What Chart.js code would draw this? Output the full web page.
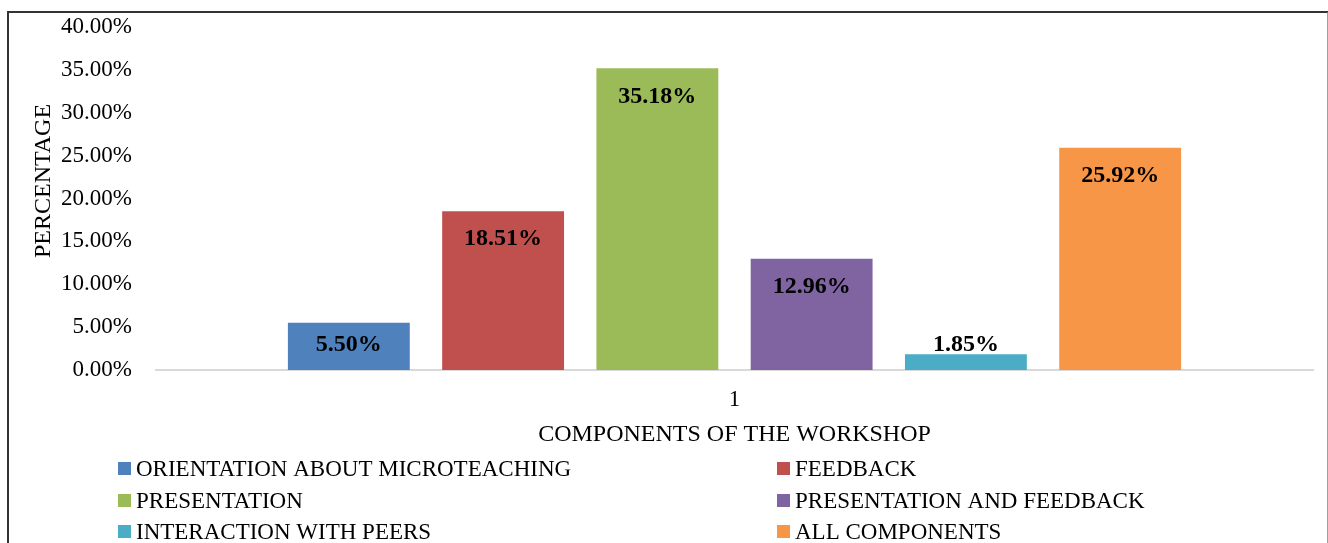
<!DOCTYPE html>
<html>
<head>
<meta charset="utf-8">
<script src="https://cdn.jsdelivr.net/npm/chart.js@4.4.1/dist/chart.umd.min.js"></script>
<style>
  html, body { margin: 0; padding: 0; background: #fff; overflow: hidden; }
  #wrap { position: relative; width: 1328px; height: 543px; }
  #frame {
    position: absolute; left: 7px; top: 11px; width: 1318px; height: 600px;
    border-left: 2px solid #333; border-top: 2px solid #333; border-right: 2px solid #a0a0a0;
  }
  canvas { position: absolute; left: 0; top: 0; }
</style>
</head>
<body>
<div id="wrap">
  <div id="frame"></div>
  <canvas id="chart" width="1328" height="543"></canvas>
</div>
<script>
'use strict';

const categories = ['1'];
const seriesNames = [
  'ORIENTATION ABOUT MICROTEACHING',
  'FEEDBACK',
  'PRESENTATION',
  'PRESENTATION AND FEEDBACK',
  'INTERACTION WITH PEERS',
  'ALL COMPONENTS',
];
const seriesValues = [5.50, 18.51, 35.18, 12.96, 1.85, 25.92];
const seriesColors = ['#4F81BD', '#C0504D', '#9BBB59', '#8064A2', '#4BACC6', '#F79646'];
const yTickMin = 0;
const yTickMax = 40;
const yTickStep = 5;
const xTitle = 'COMPONENTS OF THE WORKSHOP';
const yTitle = 'PERCENTAGE';

const FONT = '"Liberation Serif", "Times New Roman", serif';

// 막대 위 값 표시 (Excel inside-end 스타일)
const valueLabels = {
  id: 'valueLabels',
  afterDatasetsDraw(chart) {
    const ctx = chart.ctx;
    ctx.save();
    ctx.font = 'bold 24px ' + FONT;
    ctx.fillStyle = '#000';
    ctx.textAlign = 'center';
    ctx.textBaseline = 'middle';
    chart.data.datasets.forEach((ds, i) => {
      const meta = chart.getDatasetMeta(i);
      meta.data.forEach((bar, j) => {
        const y = Math.min(bar.y + 28, bar.base - 25);
        ctx.fillText(ds.data[j].toFixed(2) + '%', bar.x, y);
      });
    });
    ctx.restore();
  },
};

// 세로축 제목
const yAxisTitle = {
  id: 'yAxisTitle',
  afterDraw(chart) {
    const ctx = chart.ctx;
    ctx.save();
    ctx.translate(44, 181);
    ctx.rotate(-Math.PI / 2);
    ctx.font = '24px ' + FONT;
    ctx.fillStyle = '#000';
    ctx.textAlign = 'center';
    ctx.textBaseline = 'middle';
    ctx.fillText(yTitle, 0, 0);
    ctx.restore();
  },
};

// 2열 범례
const twoColLegend = {
  id: 'twoColLegend',
  afterDraw(chart) {
    const ctx = chart.ctx;
    const cols = [118, 777];
    const rows = [469, 501, 532];
    ctx.save();
    ctx.font = '23px ' + FONT;
    ctx.textAlign = 'left';
    ctx.textBaseline = 'middle';
    chart.data.datasets.forEach((ds, i) => {
      const x = cols[i % 2];
      const y = rows[Math.floor(i / 2)];
      ctx.fillStyle = ds.backgroundColor;
      ctx.fillRect(x, y - 7, 13, 13);
      ctx.fillStyle = '#000';
      ctx.fillText(ds.label, x + 18, y + 1);
    });
    ctx.restore();
  },
};

const chart = new Chart(document.getElementById('chart'), {
  type: 'bar',
  data: {
    labels: categories,
    datasets: seriesNames.map((name, i) => ({
      label: name,
      data: [seriesValues[i]],
      backgroundColor: seriesColors[i],
      borderWidth: 0,
      categoryPercentage: 0.8,
      barPercentage: 0.79,
    })),
  },
  options: {
    responsive: false,
    animation: false,
    layout: { padding: { left: 8, right: 15, top: 27, bottom: 90 } },
    plugins: {
      legend: { display: false },
      tooltip: { enabled: false },
    },
    scales: {
      x: {
        grid: { display: false, drawTicks: false },
        border: { display: true, color: '#d9d9d9', width: 2 },
        ticks: { color: '#000', padding: 16, font: { size: 23, family: FONT } },
        title: {
          display: true,
          text: xTitle,
          color: '#000',
          font: { size: 24, family: FONT },
          padding: { top: 4, bottom: 4 },
        },
        afterFit: (s) => { s.height = 83; },
      },
      y: {
        min: yTickMin,
        max: yTickMax,
        grid: { display: false, drawTicks: false },
        border: { display: false },
        ticks: {
          stepSize: yTickStep,
          color: '#000',
          padding: 24,
          font: { size: 23, family: FONT },
          callback: (v) => v.toFixed(2) + '%',
        },
        afterFit: (s) => {
          s.width = 148;
          s.paddingTop = 0;
          s.paddingBottom = 0;
        },
      },
    },
  },
  plugins: [valueLabels, yAxisTitle, twoColLegend],
});
</script>
</body>
</html>
